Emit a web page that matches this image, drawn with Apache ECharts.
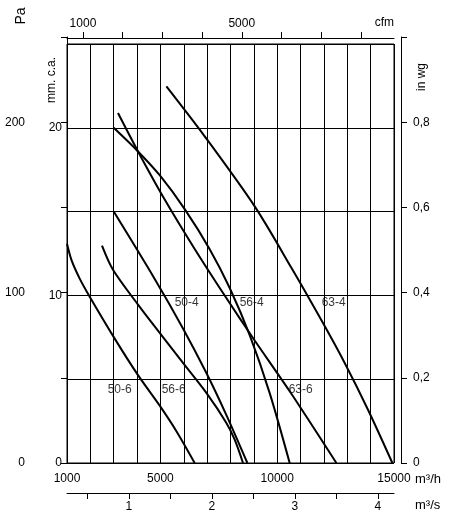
<!DOCTYPE html>
<html>
<head>
<meta charset="utf-8">
<script src="https://cdn.jsdelivr.net/npm/echarts@6/dist/echarts.min.js"></script>
<style>
html,body{margin:0;padding:0;background:#fff;}
#c{width:450px;height:520px;}
</style>
</head>
<body>
<div id="c"></div>
<script>
// ---- data: flow (m3/h), pressure (mm c.a.) ----
const curve50_6 = [[1000,13.08],[1201,12.07],[1544,11.0],[1972,9.92],[3042,7.42],[4040,5.24],[4969,3.42],[5697,1.87],[6467,0]];
const curve56_6 = [[2498,12.97],[2969,11.53],[4040,9.45],[4969,7.76],[5966,5.97],[6968,4.18],[7824,2.39],[8180,1.39],[8535,0]];
const curve50_4 = [[3000,15.0],[4755,10.98],[5966,8.03],[6968,5.37],[7824,2.86],[8723,0]];
const curve56_4 = [[3000,20.0],[4040,18.59],[4969,17.17],[6039,15.15],[7109,12.76],[7966,10.44],[8822,7.63],[9678,4.17],[10534,0]];
const curve63_6 = [[3183,20.88],[4040,18.59],[5183,15.72],[6467,12.77],[7752,9.99],[9036,7.31],[10535,4.28],[12534,0]];
const curve63_4 = [[5256,22.47],[6895,19.49],[9036,15.31],[10607,11.65],[11960,8.35],[12889,5.97],[13887,3.18],[14931,0]];

const curveNames = ['50-6','56-6','50-4','56-4','63-6','63-4'];
const curves = [curve50_6, curve56_6, curve50_4, curve56_4, curve63_6, curve63_4];
// label anchor points (m3/h, mm c.a.)
const curveLabels = [['50-4',6125,9.56],['56-4',8908,9.56],['63-4',12417,9.56],['50-6',3256,4.37],['56-6',5568,4.37],['63-6',11005,4.37]];

// ---- axis ticks / labels ----
const m3hLabels = [1000,5000,10000,15000];
const mmLabels = [0,10,20];
const cfmTicks = [1000,2000,3000,4000,5000,6000,7000,8000];
const cfmLabels = [1000,5000];
const m3sTicks = [0.5,1,1.5,2,2.5,3,3.5,4];
const m3sLabels = [1,2,3,4];
const paTicks = [0,50,100,150,200,250];
const paLabels = [0,100,200];
const inwgTicks = [0,0.2,0.4,0.6,0.8,1.0];
const inwgLabels = [0,0.2,0.4,0.6,0.8];

const FONT = '"Liberation Sans", Arial, sans-serif';
const lbl = {color:'#000', fontFamily:FONT, fontSize:12};

const chart = echarts.init(document.getElementById('c'), null, {renderer:'canvas'});

const series = curves.map((d,i)=>({
  name: curveNames[i], type:'line', xAxisIndex:0, yAxisIndex:0,
  data: d, symbol:'none', smooth:0.3, silent:true,
  lineStyle:{color:'#000', width:2}
}));
series.push({
  type:'scatter', xAxisIndex:0, yAxisIndex:0, silent:true,
  symbolSize:1, itemStyle:{color:'rgba(0,0,0,0)'},
  data: curveLabels.map(l=>({value:[l[1],l[2]], name:l[0]})),
  label:{show:true, position:'inside', formatter:p=>p.name, color:'#000', fontFamily:FONT, fontSize:12}
});

const option = {
  animation:false,
  backgroundColor:'#fff',
  grid:[
    {left:67, right:56, top:44, bottom:57, show:true, borderColor:'#000', borderWidth:1, containLabel:false},
    {left:67, right:56, top:37, bottom:57, show:false, containLabel:false}
  ],
  xAxis:[
    {type:'value', gridIndex:0, position:'bottom', min:1000, max:15000, interval:1000,
     axisLine:{show:false}, axisTick:{show:false},
     splitLine:{show:true, lineStyle:{color:'#000', width:1}},
     axisLabel:{...lbl, margin:10, showMinLabel:true, showMaxLabel:true,
       formatter:v=> m3hLabels.includes(v) ? String(v) : ''}},
    {type:'value', gridIndex:0, position:'top', offset:6, min:598, max:8835,
     axisLine:{show:true, lineStyle:{color:'#000', width:1}},
     axisTick:{show:true, length:6, lineStyle:{color:'#000'}, customValues:cfmTicks},
     splitLine:{show:false},
     axisLabel:{...lbl, margin:8, customValues:cfmLabels, formatter:v=>String(v)}},
    {type:'value', gridIndex:0, position:'bottom', offset:30, min:0.254, max:4.194,
     axisLine:{show:true, lineStyle:{color:'#000', width:1}},
     axisTick:{show:true, length:6, lineStyle:{color:'#000'}, customValues:m3sTicks},
     splitLine:{show:false},
     axisLabel:{...lbl, margin:8, customValues:m3sLabels, formatter:v=>String(v)}},
    {type:'value', gridIndex:1, show:false, min:0, max:1}
  ],
  yAxis:[
    {type:'value', gridIndex:0, position:'left', min:0, max:25, interval:5,
     axisLine:{show:false}, axisTick:{show:false},
     splitLine:{show:true, lineStyle:{color:'#000', width:1}},
     axisLabel:{...lbl, margin:5, padding:[0,0,7,0],
       formatter:v=> mmLabels.includes(v) ? String(v) : ''}},
    {type:'value', gridIndex:1, position:'left', offset:30, min:0, max:250,
     axisLine:{show:true, lineStyle:{color:'#000', width:1}},
     axisTick:{show:true, length:6, lineStyle:{color:'#000'}, customValues:paTicks},
     splitLine:{show:false},
     axisLabel:{...lbl, margin:12, customValues:paLabels, formatter:v=>String(v)}},
    {type:'value', gridIndex:1, position:'right', offset:7, min:0, max:1,
     axisLine:{show:true, lineStyle:{color:'#000', width:1}},
     axisTick:{show:true, length:6, lineStyle:{color:'#000'}, customValues:inwgTicks},
     splitLine:{show:false},
     axisLabel:{...lbl, margin:12, customValues:inwgLabels,
       formatter:v=> v===0 ? '0' : v.toFixed(1).replace('.', ',')}}
  ],
  graphic:[
    {type:'text', x:21, y:16, rotation:Math.PI/2, style:{text:'Pa', fill:'#000', font:'14px '+FONT, align:'center', verticalAlign:'middle'}},
    {type:'text', x:52, y:80, rotation:Math.PI/2, style:{text:'mm. c.a.', fill:'#000', font:'12px '+FONT, align:'center', verticalAlign:'middle'}},
    {type:'text', x:422, y:77, rotation:Math.PI/2, style:{text:'in wg', fill:'#000', font:'12px '+FONT, align:'center', verticalAlign:'middle'}},
    {type:'text', x:394, y:23, style:{text:'cfm', fill:'#000', font:'12px '+FONT, align:'right', verticalAlign:'middle'}},
    {type:'text', x:415, y:479, style:{text:'m³/h', fill:'#000', font:'13px '+FONT, align:'left', verticalAlign:'middle'}},
    {type:'text', x:415, y:505, style:{text:'m³/s', fill:'#000', font:'13px '+FONT, align:'left', verticalAlign:'middle'}}
  ],
  series: series
};
chart.setOption(option);
</script>
</body>
</html>
